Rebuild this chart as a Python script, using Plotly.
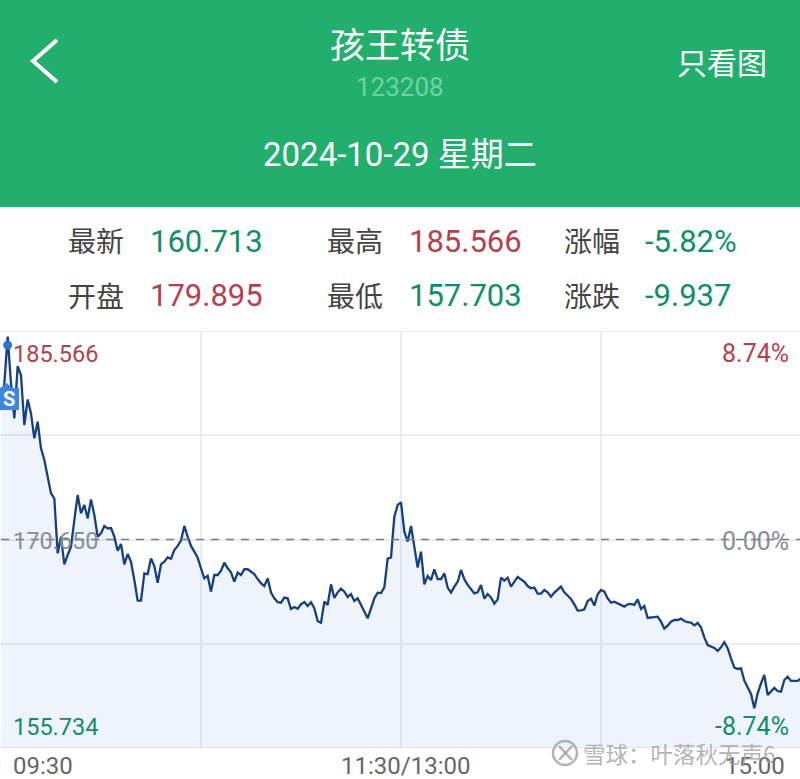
import plotly.graph_objects as go

W, H = 800, 779
TOP, BOTTOM = 331, 748

minutes = list(range(241))
prices = [
179.90,181.82,185.16,181.82,179.32,183.06,182.41,178.84,180.67,179.67,
177.89,179.08,177.17,176.34,175.14,173.95,173.59,169.66,170.85,168.87,
169.54,170.14,172.04,173.83,172.52,173.12,172.16,173.52,172.40,170.85,
171.09,171.62,171.45,171.47,170.85,169.85,170.33,168.87,169.61,169.06,
167.75,166.28,166.28,168.23,168.18,169.30,168.75,167.56,168.87,169.06,
169.37,169.28,169.90,170.19,170.57,171.62,170.85,170.19,169.78,169.35,
168.59,167.87,168.06,166.92,168.11,168.11,168.42,168.99,168.59,168.30,
167.63,168.28,168.11,168.52,168.52,168.35,168.18,167.82,167.52,167.32,
167.87,166.85,166.44,166.16,166.13,166.49,166.44,165.68,165.82,165.70,
166.01,166.18,165.89,166.16,165.73,164.82,164.70,166.20,165.97,167.44,
166.47,166.87,167.13,166.92,166.54,166.75,166.25,166.44,165.97,165.49,
165.01,165.73,166.44,166.85,166.82,167.23,169.28,169.37,172.28,173.12,
173.31,171.21,170.50,171.62,170.26,168.64,169.78,167.44,168.04,167.75,
168.52,167.82,167.82,168.23,167.21,166.85,167.28,167.63,168.47,167.80,
167.40,167.09,166.80,166.87,167.40,166.42,166.75,166.51,166.06,166.37,
167.92,167.71,167.92,167.28,167.59,167.97,167.80,167.63,167.32,167.16,
167.21,166.78,166.78,167.04,166.87,166.56,166.85,167.09,167.28,166.87,
166.63,166.39,166.01,165.56,165.58,165.66,166.25,166.42,165.92,166.73,
167.04,166.92,166.44,166.13,166.20,166.08,166.01,165.85,166.01,166.04,
165.97,166.37,165.68,165.89,165.04,165.08,165.08,165.13,164.77,164.27,
164.49,164.77,164.89,164.89,164.99,164.82,164.73,164.70,164.51,164.68,
164.37,163.65,163.10,162.99,162.89,162.68,162.94,163.30,162.87,162.15,
161.48,161.39,161.44,160.55,160.05,159.60,158.58,159.65,160.36,160.96,
159.53,159.77,160.03,159.81,159.77,160.60,160.84,160.53,160.51,160.53,
160.71]

y_ticks = [155.734, 163.192, 170.650, 178.108, 185.566]
x_ticks = [0, 60, 120, 180, 240]
prev_close = 170.650
high_dot = (2, 184.56)

GREEN = "#22AE6C"
UP = "#B8404E"
DOWN = "#0F8F68"
GREY = "#8A8F96"
GRID = "#ECEDF1"
WATER = "rgba(160,160,160,0.8)"
CJK = "Noto Sans CJK SC, Roboto, sans-serif"
NUM = "Roboto, Noto Sans CJK SC, sans-serif"

def px(x): return x / W
def py(y): return 1 - y / H

fig = go.Figure()
fig.add_trace(go.Scatter(x=minutes, y=prices, mode="lines",
                         line=dict(color="#17407F", width=2.3),
                         fill="tozeroy", fillcolor="rgba(70,120,215,0.085)",
                         hoverinfo="skip", showlegend=False))
fig.add_trace(go.Scatter(x=[high_dot[0]], y=[high_dot[1]], mode="markers",
                         marker=dict(color="#2F74D0", size=9),
                         hoverinfo="skip", showlegend=False))

shapes = [
    dict(type="rect", xref="paper", yref="paper", x0=0, x1=1, y0=py(207), y1=1,
         fillcolor=GREEN, line_width=0, layer="above"),
    dict(type="path", xref="paper", yref="paper",
         path=f"M {px(57)} {py(40)} L {px(33)} {py(61)} L {px(57)} {py(82)}",
         line=dict(color="white", width=4), layer="above"),
    dict(type="line", xref="paper", yref="y", x0=0, x1=1, y0=y_ticks[-1], y1=y_ticks[-1],
         line=dict(color=GRID, width=2), layer="below"),
    dict(type="line", xref="paper", yref="y", x0=0, x1=1, y0=y_ticks[0], y1=y_ticks[0],
         line=dict(color="#E2E5EC", width=2), layer="above"),
    dict(type="line", xref="x", yref="y", x0=0, x1=240, y0=prev_close, y1=prev_close,
         line=dict(color="#777B82", width=1.3, dash="8px,7px"), layer="above"),
    dict(type="path", xref="paper", yref="paper",
         path=(f"M {px(0)} {py(388)} L {px(7)} {py(383)} L {px(12)} {py(388)} L {px(19)} {py(388)} "
               f"L {px(19)} {py(410)} L {px(0)} {py(410)} Z"),
         fillcolor="#3D85E0", line_width=0, layer="above"),
    dict(type="circle", xref="paper", yref="paper",
         x0=px(553), x1=px(577), y0=py(765), y1=py(741),
         line=dict(color=WATER, width=2.5), layer="above"),
    dict(type="line", xref="paper", yref="paper",
         x0=px(559), x1=px(572), y0=py(746), y1=py(760),
         line=dict(color=WATER, width=2.5), layer="above"),
    dict(type="line", xref="paper", yref="paper",
         x0=px(572), x1=px(559), y0=py(746), y1=py(760),
         line=dict(color=WATER, width=2.5), layer="above"),
]

def note(text, x, y, size, color, anchor="left", family=NUM):
    shift = {"left": -2, "right": 2, "center": 0}[anchor]
    fig.add_annotation(text=text, xref="paper", yref="paper", x=px(x + shift), y=py(y),
                       xanchor=anchor, yanchor="middle", showarrow=False,
                       font=dict(size=size, color=color, family=family))

note("孩王转债", 400, 43, 35, "white", "center", CJK)
note("123208", 400, 87, 26, "#6FD3A2", "center")
note("2024-10-29 星期二", 400, 155, 33, "white", "center")
note("只看图", 722, 61, 30, "white", "center", CJK)

for text, x, y in [("最新", 68, 240), ("最高", 327, 240), ("涨幅", 564, 240),
                   ("开盘", 68, 295), ("最低", 327, 295), ("涨跌", 564, 295)]:
    note(text, x, y, 28, "#444444", "left", CJK)
for text, x, y, c in [("160.713", 150, 241, DOWN), ("185.566", 409, 241, UP),
                      ("-5.82%", 645, 241, DOWN), ("179.895", 150, 296, UP),
                      ("157.703", 409, 296, DOWN), ("-9.937", 645, 296, DOWN)]:
    note(text, x, y, 31, c)

note("185.566", 13, 354, 23.5, UP)
note("8.74%", 789, 353, 25, UP, "right")
note("170.650", 13, 541, 23.5, GREY)
note("0.00%", 789, 541, 25, GREY, "right")
note("155.734", 13, 727, 23.5, DOWN)
note("-8.74%", 789, 726, 25, DOWN, "right")
note("09:30", 13, 766, 24, "#666666")
note("11:30/13:00", 406, 766, 24, "#666666", "center")
note("15:00", 785, 766, 24, "#666666", "right")
note("<b>S</b>", 9, 399, 20, "white", "center")
note("雪球：叶落秋无声6", 583, 753, 22.5, WATER, "left", CJK)

fig.update_layout(
    width=W, height=H, margin=dict(l=0, r=0, t=0, b=0),
    paper_bgcolor="white", plot_bgcolor="white", shapes=shapes, showlegend=False,
    xaxis=dict(domain=[0, 1], range=[-0.3, 239.7], tickvals=x_ticks, showticklabels=False,
               showgrid=True, gridcolor=GRID, gridwidth=1.5, zeroline=False, ticks=""),
    yaxis=dict(domain=[py(BOTTOM), py(TOP)], range=[y_ticks[0], y_ticks[-1]], tickvals=y_ticks,
               showticklabels=False, showgrid=True, gridcolor=GRID, gridwidth=1.5,
               zeroline=False, ticks=""),
)

fig.write_html("out.html", config={"displayModeBar": False},
               post_script="document.body.style.margin='0';document.body.style.overflow='hidden';")
